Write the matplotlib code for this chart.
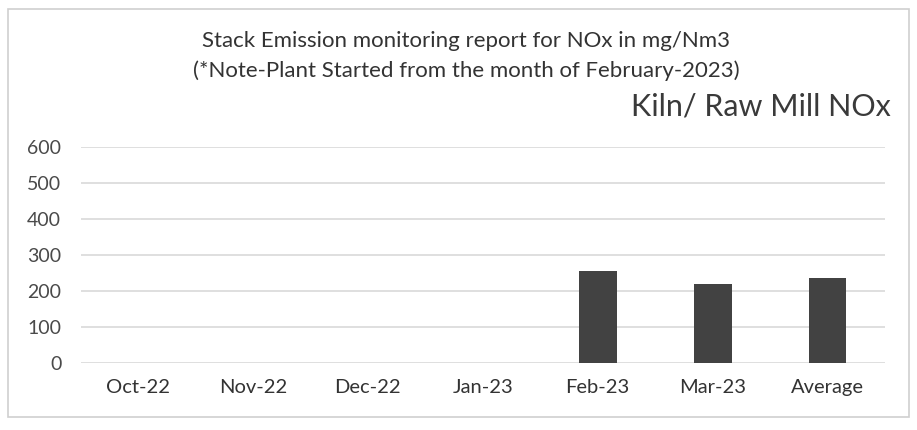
import matplotlib
matplotlib.use("Agg")
import matplotlib.pyplot as plt
from matplotlib.patches import Rectangle

categories = ["Oct-22", "Nov-22", "Dec-22", "Jan-23", "Feb-23", "Mar-23", "Average"]
nox_values = [0, 0, 0, 0, 256, 221, 238]
y_ticks = [0, 100, 200, 300, 400, 500, 600]

title_line1 = "Stack Emission monitoring report for NOx in mg/Nm3"
title_line2 = "(*Note-Plant Started from the month of February-2023)"
series_title = "Kiln/ Raw Mill NOx"

plt.rcParams['font.family'] = ['Lato', 'DejaVu Sans']

fig = plt.figure(figsize=(9.17, 4.30), dpi=100)
fig.patch.set_facecolor("white")
ax = fig.add_axes([0.088, 0.155, 0.877, 0.503])

x = range(len(categories))
ax.bar(x, nox_values, width=0.33, color="#424242", zorder=3)
ax.set_xlim(-0.5, len(categories) - 0.5)
ax.set_ylim(0, 600)
ax.set_yticks(y_ticks)
ax.set_yticklabels([str(v) for v in y_ticks], fontsize=14, color="#4a4a4a")
ax.set_xticks(list(x))
ax.set_xticklabels(categories, fontsize=14.5, color="#333333")
ax.tick_params(axis="x", length=0, pad=11)
ax.tick_params(axis="y", length=0, pad=14)
ax.grid(axis="y", color="#d9d9d9", linewidth=1.2, zorder=0)
for s in ax.spines.values():
    s.set_visible(False)

fig.text(0.508, 0.905, title_line1, ha="center", va="center", fontsize=16, color="#333333")
fig.text(0.508, 0.835, title_line2, ha="center", va="center", fontsize=16, color="#333333")
fig.text(0.971, 0.752, series_title, ha="right", va="center", fontsize=22, color="#3a3a3a")

fig.patches.append(Rectangle((0.009, 0.03), 0.982, 0.95, transform=fig.transFigure,
                             fill=False, edgecolor="#cfcfcf", linewidth=1.2))

fig.savefig("out.png", dpi=100)
